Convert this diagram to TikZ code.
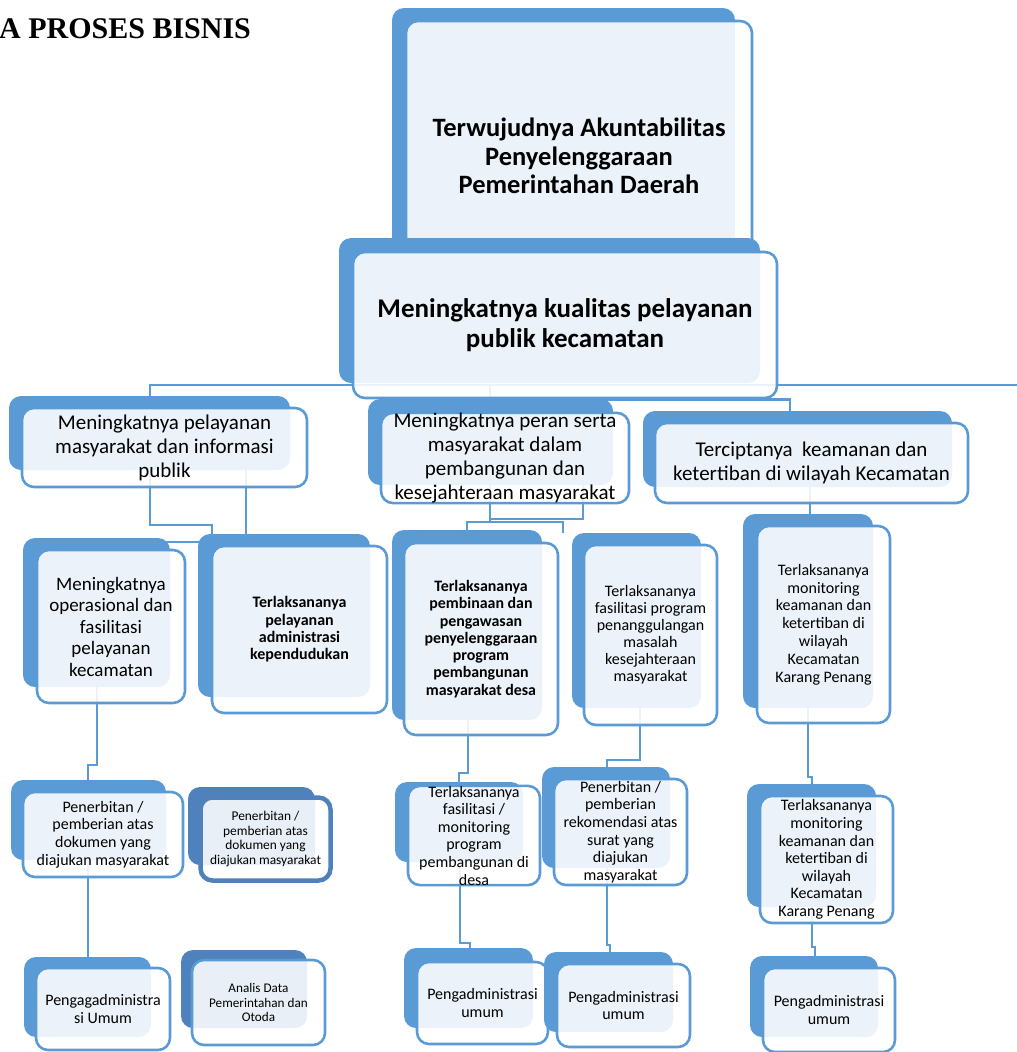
\documentclass[tikz,border=0pt]{standalone}
\usepackage{fontspec}
\setmainfont{Carlito}
\newfontfamily\titlefont{Liberation Serif}
\usetikzlibrary{backgrounds}
\definecolor{bizblue}{HTML}{5B9BD5}
\definecolor{bizdark}{HTML}{4F81BD}
\tikzset{
  back/.style={fill=bizblue, rounded corners=12pt, inner sep=0pt},
  front/.style={draw=bizblue, line width=2.6pt, fill=white, fill opacity=0.88, text opacity=1,
    rounded corners=12pt, align=center, inner sep=0pt},
  link/.style={draw=bizblue, line width=2.8pt},
  huge/.style={font=\bfseries\fontsize{27}{30}\selectfont},
  large/.style={font=\bfseries\fontsize{26.5}{28.5}\selectfont},
  mid/.style={font=\fontsize{21}{24}\selectfont},
  small/.style={font=\fontsize{16}{17.6}\selectfont},
  tiny/.style={font=\fontsize{13.4}{14.8}\selectfont},
}
\begin{document}
\begin{tikzpicture}[x=1pt,y=-1pt]
\useasboundingbox (0,0) rectangle (1017,1052);
\node[anchor=base west, inner sep=0pt, font=\titlefont\bfseries\fontsize{30}{34}\selectfont] (title) at (-1,38) {A PROSES BISNIS};
\coordinate (edge) at (1017,385);

% boxes: blue plate behind, pale plate with the text in front
\node[back, minimum width=343pt, minimum height=270pt] (goal-bk) at (563.5,143) {};
\node[front, large, minimum width=346pt, minimum height=270pt] (goal) at (579,156)
  {Terwujudnya Akuntabilitas\\Penyelenggaraan\\Pemerintahan Daerah};
\node[back, minimum width=421pt, minimum height=145pt] (out-bk) at (549.5,310.5) {};
\node[front, huge, minimum width=424pt, minimum height=146pt] (out) at (565,325)
  {Meningkatnya kualitas pelayanan\\publik kecamatan};
\node[back, minimum width=281pt, minimum height=74pt] (info-bk) at (149.5,433) {};
\node[front, mid, minimum width=285pt, minimum height=79pt] (info) at (164.5,447.5)
  {Meningkatnya pelayanan\\masyarakat dan informasi\\publik};
\node[back, minimum width=245pt, minimum height=86pt] (peran-bk) at (490.5,442) {};
\node[front, mid, minimum width=248pt, minimum height=90pt] (peran) at (505,458)
  {Meningkatnya peran serta\\masyarakat dalam\\pembangunan dan\\kesejahteraan masyarakat};
\node[back, minimum width=309pt, minimum height=76pt] (aman-bk) at (797.5,449) {};
\node[front, mid, minimum width=313pt, minimum height=80pt] (aman) at (811.5,463)
  {Terciptanya\ \ keamanan dan\\ketertiban di wilayah Kecamatan};
\node[back, minimum width=147pt, minimum height=149pt] (ops-bk) at (96.5,612.5) {};
\node[front, font=\fontsize{19}{21.5}\selectfont, minimum width=148pt, minimum height=153pt] (ops) at (111,626.5)
  {Meningkatnya\\operasional dan\\fasilitasi\\pelayanan\\kecamatan};
\node[back, minimum width=172pt, minimum height=163pt] (adm-bk) at (284,615.5) {};
\node[front, font=\bfseries\fontsize{16}{17.4}\selectfont, minimum width=175pt, minimum height=167pt] (adm) at (299.5,629.5)
  {Terlaksananya\\pelayanan\\administrasi\\kependudukan};
\node[back, minimum width=150pt, minimum height=190pt] (bina-bk) at (467,625) {};
\node[front, font=\bfseries\fontsize{15.9}{17.3}\selectfont, minimum width=154pt, minimum height=192pt] (bina) at (481,639)
  {Terlaksananya\\pembinaan dan\\pengawasan\\penyelenggaraan\\program\\pembangunan\\masyarakat desa};
\node[back, minimum width=129pt, minimum height=175pt] (sos-bk) at (636.5,620.5) {};
\node[front, font=\fontsize{16}{17}\selectfont, minimum width=133pt, minimum height=180pt] (sos) at (650.5,635)
  {Terlaksananya\\fasilitasi program\\penanggulangan\\masalah\\kesejahteraan\\masyarakat};
\node[back, minimum width=130pt, minimum height=194pt] (mon-bk) at (808,611) {};
\node[front, font=\fontsize{16}{17.8}\selectfont, minimum width=133pt, minimum height=197pt] (mon) at (823.5,624.5)
  {Terlaksananya\\monitoring\\keamanan dan\\ketertiban di\\wilayah\\Kecamatan\\Karang Penang};
\node[back, minimum width=155pt, minimum height=80pt] (dok-bk) at (88.5,820) {};
\node[front, small, minimum width=160pt, minimum height=85pt] (dok) at (103,834.5)
  {Penerbitan /\\pemberian atas\\dokumen yang\\diajukan masyarakat};
\node[back, fill=bizdark, minimum width=127pt, minimum height=78pt] (dokb-bk) at (251.5,826) {};
\node[front, tiny, draw=bizdark, line width=4.5pt, minimum width=130pt, minimum height=83pt] (dokb) at (265.5,839)
  {Penerbitan /\\pemberian atas\\dokumen yang\\diajukan masyarakat};
\node[back, minimum width=128pt, minimum height=80pt] (fas-bk) at (459,822) {};
\node[front, small, minimum width=132pt, minimum height=85pt] (fas) at (474,835.5)
  {Terlaksananya\\fasilitasi /\\monitoring\\program\\pembangunan di\\desa};
\node[back, minimum width=128pt, minimum height=101pt] (rek-bk) at (606,817.5) {};
\node[front, small, minimum width=133pt, minimum height=106pt] (rek) at (620.5,832)
  {Penerbitan /\\pemberian\\rekomendasi atas\\surat yang\\diajukan\\masyarakat};
\node[back, minimum width=129pt, minimum height=123pt] (mond-bk) at (811.5,845.5) {};
\node[front, small, minimum width=133pt, minimum height=127pt] (mond) at (826.5,859.5)
  {Terlaksananya\\monitoring\\keamanan dan\\ketertiban di\\wilayah\\Kecamatan\\Karang Penang};
\node[back, minimum width=127pt, minimum height=80pt] (umA-bk) at (87.5,997) {};
\node[front, small, minimum width=134pt, minimum height=82pt] (umA) at (103,1009)
  {Pengagadministra\\si Umum};
\node[back, fill=bizdark, minimum width=126pt, minimum height=78pt] (data-bk) at (244,989) {};
\node[front, font=\fontsize{13.2}{14.8}\selectfont, minimum width=133pt, minimum height=85pt] (data) at (258.5,1002.5)
  {Analis Data\\Pemerintahan dan\\Otoda};
\node[back, minimum width=129pt, minimum height=80pt] (umB-bk) at (468.5,988) {};
\node[front, small, minimum width=131pt, minimum height=82pt] (umB) at (482.5,1003)
  {Pengadministrasi\\umum};
\node[back, minimum width=129pt, minimum height=80pt] (umC-bk) at (608.5,992) {};
\node[front, small, minimum width=133pt, minimum height=83pt] (umC) at (623.5,1005.5)
  {Pengadministrasi\\umum};
\node[back, minimum width=128pt, minimum height=81pt] (umD-bk) at (814,996.5) {};
\node[front, small, minimum width=132pt, minimum height=84pt] (umD) at (829,1010)
  {Pengadministrasi\\umum};

% connectors, kept under the boxes
\begin{scope}[on background layer]
\draw[link] (info.north -| 150,0) |- (edge);
\draw[link] (peran.north -| 490,0) -- (490,385);
\draw[link] (out.south) -| (aman-bk.north -| 790,0);
\draw[link] (info-bk.south -| 150,0) -- (150,525) -- (212,525) -- (212,542) -- (ops-bk.center |- 0,542);
\draw[link] (info-bk.south -| 246,0) -- (adm-bk.north -| 246,0);
\draw[link] (peran-bk.south -| 490,0) -- (490,522) -- (467,522) -- (bina-bk.north -| 467,0);
\draw[link] (490,522) -- (563,522) -- (sos-bk.north -| 563,0);
\draw[link] (peran-bk.south -| 583,0) -- (583,519) -- (490,519);
\draw[link] (aman-bk.south -| 810,0) -- (mon-bk.north -| 810,0);
\draw[link] (ops-bk.south -| 97,0) -- (97,765) -- (88,765) -- (dok-bk.north -| 88,0);
\draw[link] (bina-bk.south -| 468,0) -- (468,773) -- (459,773) -- (fas-bk.north -| 459,0);
\draw[link] (sos-bk.south -| 640,0) -- (640,760) -- (607,760) -- (rek-bk.north -| 607,0);
\draw[link] (mon-bk.south -| 808,0) -- (808,777) -- (812,777) -- (mond-bk.north -| 812,0);
\draw[link] (dok-bk.south -| 88,0) -- (umA-bk.north -| 88,0);
\draw[link] (fas-bk.south -| 460,0) -- (460,943) -- (470,943) -- (umB-bk.north -| 470,0);
\draw[link] (rek-bk.south -| 607,0) -- (607,945) -- (610,945) -- (umC-bk.north -| 610,0);
\draw[link] (mond-bk.south -| 812,0) -- (812,947) -- (815,947) -- (umD-bk.north -| 815,0);
\end{scope}
\end{tikzpicture}
\end{document}
